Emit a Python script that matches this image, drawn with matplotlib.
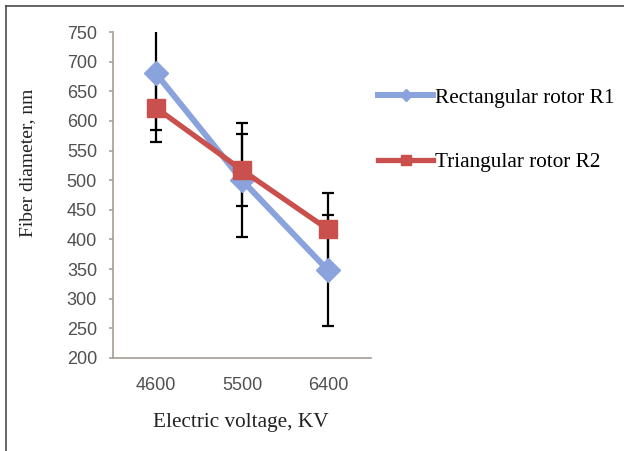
import matplotlib
matplotlib.use("Agg")
import matplotlib.pyplot as plt
from matplotlib.lines import Line2D

# Fiber diameter vs applied voltage for the two rotor geometries
voltages = ["4600", "5500", "6400"]
r1_diam = [680, 500, 348]
r1_err = [96, 96, 94]
r2_diam = [622, 517, 417]
r2_err = [57, 61, 62]

blue = "#8aa3dc"
red = "#c9504c"
axis_col = "#a59d95"
tick_col = "#505050"
serif = "Liberation Serif"
sans = "Liberation Sans"

fig = plt.figure(figsize=(6.24, 4.51), dpi=100)
ax = fig.add_axes([113 / 624, 1 - 358 / 451, 258 / 624, 326 / 451])

x = range(len(voltages))

# error bars sit under the lines and markers
ax.errorbar(x, r1_diam, yerr=r1_err, fmt="none", ecolor="black",
            elinewidth=1.6, capsize=4, capthick=1.6, zorder=2)
ax.errorbar(x, r2_diam, yerr=r2_err, fmt="none", ecolor="black",
            elinewidth=1.6, capsize=4, capthick=1.6, zorder=2)

ax.plot(x, r1_diam, color=blue, lw=4.3, marker="D", ms=12,
        label="Rectangular rotor R1", zorder=3)
ax.plot(x, r2_diam, color=red, lw=3.8, marker="s", ms=13.5,
        label="Triangular rotor R2", zorder=4)

ax.set_xlim(-0.5, 2.5)
ax.set_ylim(200, 750)
ax.set_yticks(range(200, 751, 50))
ax.set_xticks(list(x))
ax.set_xticklabels(voltages)

for side in ["top", "right"]:
    ax.spines[side].set_visible(False)
for side in ["left", "bottom"]:
    ax.spines[side].set_color(axis_col)
    ax.spines[side].set_linewidth(1.2)
ax.spines["left"].set_bounds(200, 750)

ax.tick_params(axis="y", direction="out", length=3, width=1.1, color=axis_col,
               pad=8.5, labelsize=13, labelcolor=tick_col)
ax.tick_params(axis="x", length=0, pad=14, labelsize=13, labelcolor=tick_col)
for lab in ax.get_xticklabels() + ax.get_yticklabels():
    lab.set_family(sans)

ax.set_ylabel("Fiber diameter, nm", family=serif, fontsize=14, color="#222222")
ax.yaxis.set_label_coords(-0.30, 0.60)
ax.set_xlabel("Electric voltage, KV", family=serif, fontsize=15.3, color="#222222")
ax.xaxis.set_label_coords(0.496, -0.169)

leg_handles = [
    Line2D([], [], color=blue, lw=4.3, marker="D", ms=6),
    Line2D([], [], color=red, lw=3.8, marker="s", ms=7),
]
fig.legend(leg_handles, ["Rectangular rotor R1", "Triangular rotor R2"],
           loc="upper left", bbox_to_anchor=(378 / 624, 1 - 88 / 451),
           frameon=False, borderpad=0, borderaxespad=0, handlelength=2.6,
           handletextpad=0.1, labelspacing=2.1,
           prop={"family": serif, "size": 15.3})

# frame around the figure (only top and left edges show)
fig.add_artist(Line2D([5.5 / 624, 5.5 / 624], [0, 1 - 6 / 451],
                      color="#4a4a4a", lw=1.2, transform=fig.transFigure))
fig.add_artist(Line2D([5.5 / 624, 1], [1 - 6 / 451, 1 - 6 / 451],
                      color="#4a4a4a", lw=1.2, transform=fig.transFigure))

fig.savefig("out.png", dpi=100)
